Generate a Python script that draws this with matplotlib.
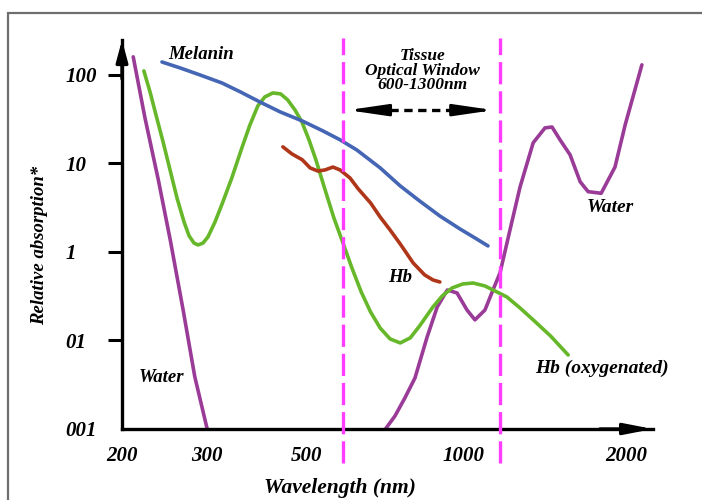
import numpy as np
import matplotlib
matplotlib.use("Agg")
import matplotlib.pyplot as plt
from matplotlib.patches import Rectangle

plt.rcParams['font.family'] = ['Liberation Serif', 'DejaVu Serif']
plt.rcParams['font.weight'] = 'bold'
plt.rcParams['font.style'] = 'italic'
plt.rcParams['lines.scale_dashes'] = False

# values: wavelength (nm) and relative absorption
water_uv_wl = [211, 223, 238, 252, 268, 283, 301]
water_uv_abs = [160, 33.3, 6.4, 1.33, 0.214, 0.039, 0.0095]

water_ir_wl = [716, 747, 779, 813, 856, 893, 932, 971, 1022, 1083, 1165,
               1235, 1300, 1345, 1392, 1456, 1516, 1553, 1596, 1652, 1710,
               1757, 1837, 1926, 1994, 2112]
water_ir_abs = [0.0098, 0.014, 0.0224, 0.0377, 0.11, 0.239, 0.372, 0.344,
                0.221, 0.171, 0.221, 0.372, 0.58, 1.77, 5.4, 17.1, 25.2,
                25.8, 18.5, 12.5, 6.2, 4.8, 4.6, 9.1, 27.2, 130]

hbo2_wl = [222, 228.6, 235.2, 243.3, 251.5, 260, 268.9, 275.4, 282, 287.4,
           294.3, 301.5, 312.5, 324, 340.5, 358.5, 373.5, 389, 403, 420, 437,
           453, 470, 487, 505, 523, 548, 573, 600, 623, 648, 674, 702, 732,
           764, 797, 829, 877, 912, 951, 995, 1068, 1165, 1272, 1331, 1392,
           1456, 1546, 1641]
hbo2_abs = [111, 64.3, 35.3, 17.5, 8.45, 4.07, 2.18, 1.52, 1.26, 1.2, 1.26,
            1.48, 2.18, 3.48, 6.85, 15, 27.2, 44.7, 56.4, 62.6, 61, 52.2, 40.3,
            29.5, 18.5, 11, 5.02, 2.42, 1.26, 0.659, 0.353, 0.21, 0.138,
            0.104, 0.0938, 0.107, 0.146, 0.239, 0.318, 0.392, 0.435, 0.446,
            0.413, 0.353, 0.31, 0.233, 0.171, 0.112, 0.0686]

melanin_wl = [242, 263.8, 290, 324, 355.7, 393, 436, 488, 542, 591, 636, 702,
              764, 829, 903, 983, 1083, 1191]
melanin_abs = [140, 120, 100, 81, 64.3, 49.5, 38.2, 30.2, 23.3, 18.5, 14.2,
               8.9, 5.57, 3.77, 2.55, 1.82, 1.44, 1.17]

hb_wl = [442, 463, 488, 508, 528.6, 548, 570, 591, 618, 640, 674, 702, 732,
         764, 807, 847, 877, 903]
hb_abs = [15.4, 12.8, 11, 8.9, 8.2, 8.45, 9.1, 8.45, 6.85, 5.15, 3.58, 2.48,
          1.77, 1.23, 0.75, 0.55, 0.483, 0.458]

window = [600, 1300]
xticks = [200, 300, 500, 1000, 2000]
yticks = [100, 10, 1, 0.1, 0.01]
ytick_labels = ['100', '10', '1', '01', '001']

# the printed wavelength axis is roughly, not exactly, logarithmic
SCALE_WL = [100, 200, 300, 500, 600, 1000, 1300, 2000, 4000]
SCALE_POS = [-22, 0, 85, 185, 221, 342, 378, 504, 706]


def fwd(x):
    x = np.clip(np.asarray(x, dtype=float), 1e-9, None)
    return np.interp(np.log10(x), np.log10(SCALE_WL), SCALE_POS)


def inv(p):
    return 10 ** np.interp(p, SCALE_POS, np.log10(SCALE_WL))


fig = plt.figure(figsize=(7.02, 5.0), dpi=100)
ax = fig.add_axes([122/702, 1-429/500, 531/702, 389/500])
ax.set_xscale('function', functions=(fwd, inv))
ax.set_yscale('log')
ax.set_xlim(200, 2194)
ax.set_ylim(0.01, 248)

lw = 2.6
kw = dict(lw=lw, solid_capstyle='round', solid_joinstyle='round')
ax.plot(water_uv_wl, water_uv_abs, color='#9a3b98', **kw)
ax.plot(water_ir_wl, water_ir_abs, color='#9a3b98', **kw)
ax.plot(hbo2_wl, hbo2_abs, color='#66b82a', **kw)
ax.plot(melanin_wl, melanin_abs, color='#4466b4', **kw)
ax.plot(hb_wl, hb_abs, color='#b0361a', **kw)

for w in window:
    ax.vlines(w, 0.0041, 262, colors='#ff3cff', lw=2.4,
              linestyles=(0, (16, 5)), clip_on=False, zorder=5)

# spines with arrow heads
for s in ['top', 'right']:
    ax.spines[s].set_visible(False)
for s in ['left', 'bottom']:
    ax.spines[s].set_linewidth(2.4)
ax.annotate('', xy=(0, 1.0), xytext=(0, 0.9), xycoords='axes fraction',
            arrowprops=dict(arrowstyle='-|>,head_length=1.3,head_width=0.35',
                            color='black', lw=2.4, shrinkA=0, shrinkB=0),
            annotation_clip=False)
ax.annotate('', xy=(1.0, 0), xytext=(0.9, 0), xycoords='axes fraction',
            arrowprops=dict(arrowstyle='-|>,head_length=1.7,head_width=0.33',
                            color='black', lw=2.4, shrinkA=0, shrinkB=0),
            annotation_clip=False)

ax.set_xticks(xticks)
ax.set_xticklabels([str(v) for v in xticks])
ax.xaxis.set_minor_locator(matplotlib.ticker.NullLocator())
ax.tick_params(axis='x', length=0, pad=12, labelsize=15)
ax.set_yticks(yticks)
ax.set_yticklabels(ytick_labels)
ax.yaxis.set_minor_locator(matplotlib.ticker.NullLocator())
ax.tick_params(axis='y', length=10, width=2.2, pad=31, labelsize=15)
for lab in ax.get_yticklabels():
    lab.set_horizontalalignment('left')
ax.yaxis.get_major_ticks()[-1].tick1line.set_visible(False)

# window arrow
ax.annotate('', xy=(612, 40), xytext=(690, 40),
            arrowprops=dict(arrowstyle='-|>,head_length=2.4,head_width=0.35',
                            color='black', lw=2, shrinkA=0, shrinkB=0))
ax.annotate('', xy=(1240, 40), xytext=(1080, 40),
            arrowprops=dict(arrowstyle='-|>,head_length=2.4,head_width=0.35',
                            color='black', lw=2, shrinkA=0, shrinkB=0))
ax.plot([690, 1080], [40, 40], color='black', lw=2.4, ls=(0, (6, 4)))

ax.text(838, 111, 'Tissue\nOptical Window\n600-1300nm', ha='center',
        va='center', fontsize=12.5, linespacing=0.88)
ax.text(249, 168, 'Melanin', ha='left', va='center', fontsize=13.5)
ax.text(764, 0.52, 'Hb', ha='center', va='center', fontsize=13.5)
ax.text(241, 0.0377, 'Water', ha='center', va='center', fontsize=13.5)
ax.text(1894, 3.14, 'Water', ha='center', va='center', fontsize=14)
ax.text(1844, 0.049, 'Hb (oxygenated)', ha='center', va='center', fontsize=14)

fig.text(40/702, 1-245/500, 'Relative absorption*', rotation=90,
         ha='center', va='center', fontsize=13.5)
fig.text(340/702, 1-488/500, 'Wavelength (nm)', ha='center', va='center',
         fontsize=15.5)

fig.add_artist(Rectangle((8/702, -0.1), 1.2, 1-13/500+0.1,
                         transform=fig.transFigure, fill=False,
                         ec='#6e6e6e', lw=1.6))

fig.savefig('out.png', dpi=100)
